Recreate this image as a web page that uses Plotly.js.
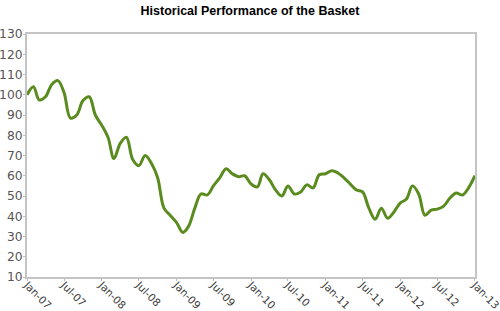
<!DOCTYPE html>
<html>
<head>
<meta charset="utf-8">
<script src="https://cdn.plot.ly/plotly-3.0.1.min.js"></script>
<style>html,body{margin:0;padding:0;background:#fff;}#chart{width:500px;height:311px;}</style>
</head>
<body>
<div id="chart"></div>
<script>
const dates = [
"2007-01","2007-02","2007-03","2007-04","2007-05","2007-06","2007-07","2007-08","2007-09","2007-10","2007-11","2007-12",
"2008-01","2008-02","2008-03","2008-04","2008-05","2008-06","2008-07","2008-08","2008-09","2008-10","2008-11","2008-12",
"2009-01","2009-02","2009-03","2009-04","2009-05","2009-06","2009-07","2009-08","2009-09","2009-10","2009-11","2009-12",
"2010-01","2010-02","2010-03","2010-04","2010-05","2010-06","2010-07","2010-08","2010-09","2010-10","2010-11","2010-12",
"2011-01","2011-02","2011-03","2011-04","2011-05","2011-06","2011-07","2011-08","2011-09","2011-10","2011-11","2011-12",
"2012-01","2012-02","2012-03","2012-04","2012-05","2012-06","2012-07","2012-08","2012-09","2012-10","2012-11","2012-12",
"2013-01"];
const values = [
100,104,97.5,99,105,107,101,88.5,90,97,99,90,
85,79,68.5,76,79,68,65,70,66,59,44,40.5,
37,32,35,44,51,50.5,55,59,63.5,61,59.5,60,
56,54.5,61,58,53,50,55,51,52,55.5,54,60.5,
61,62.5,61.5,59,56,53,52,44,38.5,44,39,42,
46.5,48.5,55,51,40.5,43,43.5,45,49,51.5,50.5,54,
60];
const tickDates = ["2007-01-01","2007-07-01","2008-01-01","2008-07-01","2009-01-01","2009-07-01","2010-01-01","2010-07-01","2011-01-01","2011-07-01","2012-01-01","2012-07-01","2013-01-01"];
const tickLabels = ["Jan-07","Jul-07","Jan-08","Jul-08","Jan-09","Jul-09","Jan-10","Jul-10","Jan-11","Jul-11","Jan-12","Jul-12","Jan-13"];

Plotly.newPlot('chart', [{
  x: dates, y: values, type: 'scatter', mode: 'lines',
  line: {color: '#5a8b1f', width: 3, shape: 'spline', smoothing: 1},
  hoverinfo: 'none'
}], {
  width: 500, height: 311,
  margin: {l: 27, r: 25, t: 34, b: 34, pad: 0},
  paper_bgcolor: '#fff', plot_bgcolor: '#fff',
  showlegend: false,
  title: {text: '<b>Historical Performance of the Basket</b>', x: 0.5, xanchor: 'center', y: 0.965, yanchor: 'middle',
    font: {family: 'Liberation Sans, Arial, sans-serif', size: 12.5, color: '#000'}},
  xaxis: {
    range: ['2006-12-31 12:00', '2013-01-01 12:00'], type: 'date',
    tickmode: 'array', tickvals: tickDates, ticktext: tickLabels, tickangle: 45,
    ticks: 'outside', ticklen: 2, tickcolor: '#bbb', ticklabelstandoff: -6,
    ticklabeloverflow: 'allow',
    showgrid: false, zeroline: false,
    showline: true, mirror: true, linecolor: '#c4c4c4', linewidth: 2,
    tickfont: {family: 'DejaVu Sans, sans-serif', size: 10.5, color: '#3a3a3a'}
  },
  yaxis: {
    range: [10, 130], dtick: 10, tick0: 10,
    ticks: 'outside', ticklen: 2, tickcolor: '#bbb', ticklabelstandoff: -2,
    ticklabeloverflow: 'allow',
    showgrid: false, zeroline: false,
    showline: true, mirror: true, linecolor: '#c4c4c4', linewidth: 2,
    tickfont: {family: 'DejaVu Sans, sans-serif', size: 12.3, color: '#555'}
  }
}, {displayModeBar: false, staticPlot: true});
</script>
</body>
</html>
